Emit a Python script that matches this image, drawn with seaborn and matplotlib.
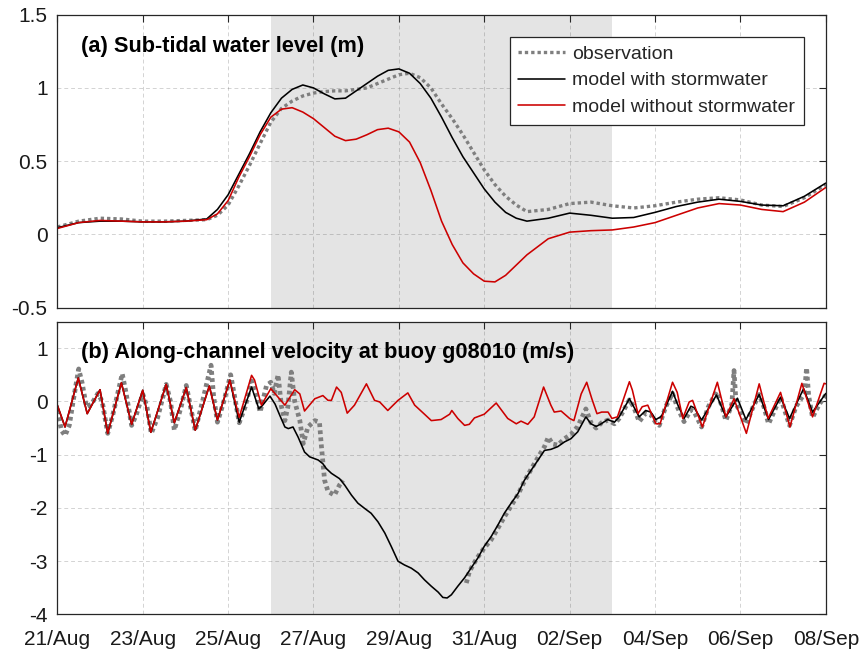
import numpy as np
import pandas as pd
import matplotlib
matplotlib.use("Agg")
import matplotlib.pyplot as plt
import matplotlib.dates as mdates
import seaborn as sns

START = pd.Timestamp("2017-08-21")
END = pd.Timestamp("2017-09-08")
STORM_START = pd.Timestamp("2017-08-26")
STORM_END = pd.Timestamp("2017-09-03")

# ---- (a) sub-tidal water level (m); time in days since 21 Aug ----
level_day = [0, 0.5, 1, 1.5, 2, 2.5, 3, 3.5,
             3.75, 4, 4.25, 4.5, 4.75, 5, 5.25, 5.5, 5.75, 6, 6.25, 6.5, 6.75,
             7, 7.25, 7.5, 7.75, 8, 8.25, 8.5, 8.75, 9, 9.25, 9.5, 9.75, 10,
             10.25, 10.5, 10.75, 11,
             11.5, 12, 12.5, 13, 13.5, 14, 14.5, 15, 15.5, 16, 16.5, 17, 17.5, 18]
level_obs = [0.05, 0.09, 0.11, 0.105, 0.09, 0.09, 0.095, 0.10,
             0.13, 0.20, 0.33, 0.47, 0.62, 0.765, 0.86, 0.91, 0.945, 0.965, 0.975, 0.98, 0.98,
             0.99, 1.00, 1.03, 1.06, 1.09, 1.10, 1.07, 1.00, 0.89, 0.79, 0.68, 0.56, 0.44,
             0.34, 0.26, 0.20, 0.155,
             0.17, 0.21, 0.22, 0.195, 0.18, 0.195, 0.22, 0.24, 0.25, 0.235, 0.20, 0.19, 0.25, 0.34]
level_with = [0.045, 0.08, 0.09, 0.09, 0.085, 0.085, 0.09, 0.105,
              0.17, 0.27, 0.41, 0.55, 0.70, 0.83, 0.93, 0.99, 1.02, 1.00, 0.96, 0.925, 0.93,
              0.98, 1.03, 1.08, 1.12, 1.13, 1.10, 1.03, 0.93, 0.80, 0.66, 0.53, 0.42, 0.31,
              0.22, 0.15, 0.11, 0.09,
              0.11, 0.145, 0.13, 0.11, 0.115, 0.15, 0.19, 0.22, 0.24, 0.225, 0.20, 0.195, 0.26, 0.35]
level_without = [0.04, 0.08, 0.095, 0.09, 0.085, 0.085, 0.09, 0.10,
                 0.14, 0.23, 0.39, 0.53, 0.68, 0.80, 0.855, 0.865, 0.835, 0.79, 0.73, 0.67, 0.64,
                 0.65, 0.68, 0.715, 0.725, 0.70, 0.63, 0.49, 0.30, 0.09, -0.07, -0.195, -0.27, -0.32,
                 -0.325, -0.28, -0.21, -0.14,
                 -0.03, 0.015, 0.025, 0.03, 0.05, 0.08, 0.13, 0.18, 0.21, 0.20, 0.17, 0.155, 0.22, 0.32]

# ---- (b) along-channel velocity (m/s) ----
# both model runs coincide before the storm
vel_early_day = [0.0, 0.18, 0.49, 0.70, 1.00, 1.18, 1.50, 1.74, 2.00, 2.19,
                 2.55, 2.74, 3.02, 3.23, 3.56, 3.75, 4.04]
vel_early = [-0.07, -0.48, 0.44, -0.23, 0.22, -0.60, 0.35, -0.43, 0.21, -0.58,
             0.32, -0.40, 0.26, -0.54, 0.29, -0.35, 0.40]

vel_with_day = [4.26, 4.55, 4.72, 4.80, 4.98, 5.10, 5.21, 5.33, 5.41, 5.52,
                5.64, 5.79, 5.91, 6.11, 6.22, 6.30, 6.42, 6.61, 6.73, 6.89,
                7.04, 7.20, 7.35, 7.51, 7.67, 7.82, 7.98, 8.13, 8.29, 8.45,
                8.60, 8.76, 8.92, 9.03, 9.13, 9.23, 9.38, 9.54, 9.69, 9.85,
                10.00, 10.16, 10.32, 10.47, 10.63, 10.79, 10.94, 11.10, 11.26, 11.41,
                11.56, 11.72, 11.88, 12.03, 12.19, 12.38, 12.50, 12.62, 12.74, 12.89,
                13.05, 13.16, 13.40, 13.63, 13.78, 13.90, 14.02, 14.15, 14.41, 14.52,
                14.68, 14.84, 14.92, 15.09, 15.44, 15.66, 15.93, 16.13, 16.44, 16.66,
                16.94, 17.15, 17.48, 17.69, 17.85, 18.0]
vel_with = [-0.39, 0.27, -0.14, -0.08, 0.10, -0.05, -0.26, -0.48, -0.51, -0.48,
            -0.67, -0.95, -1.04, -1.10, -1.17, -1.26, -1.35, -1.45, -1.57, -1.76,
            -1.91, -2.01, -2.10, -2.26, -2.47, -2.72, -3.00, -3.07, -3.13, -3.22,
            -3.35, -3.47, -3.58, -3.68, -3.69, -3.63, -3.47, -3.31, -3.13, -2.94,
            -2.72, -2.54, -2.32, -2.10, -1.91, -1.73, -1.48, -1.29, -1.10, -0.92,
            -0.90, -0.85, -0.76, -0.70, -0.57, -0.29, -0.42, -0.47, -0.42, -0.34,
            -0.39, -0.29, 0.05, -0.29, -0.17, -0.20, -0.34, -0.28, 0.19, -0.04,
            -0.32, -0.09, -0.12, -0.35, 0.12, -0.29, 0.06, -0.34, 0.13, -0.34,
            0.08, -0.32, 0.24, -0.20, -0.02, 0.15]

vel_without_day = [4.26, 4.55, 4.62, 4.78, 5.00, 5.17, 5.33, 5.56, 5.68, 5.79,
                   6.03, 6.22, 6.34, 6.42, 6.54, 6.65, 6.79, 6.96, 7.24, 7.43,
                   7.55, 7.74, 7.98, 8.21, 8.37, 8.60, 8.76, 8.99, 9.19, 9.24,
                   9.38, 9.54, 9.65, 9.77, 10.00, 10.28, 10.55, 10.75, 10.86, 11.02,
                   11.17, 11.39, 11.56, 11.64, 11.80, 12.00, 12.10, 12.27, 12.40, 12.52,
                   12.64, 12.75, 12.90, 12.99, 13.12, 13.40, 13.47, 13.60, 13.70, 13.83,
                   14.02, 14.12, 14.41, 14.52, 14.65, 14.80, 14.88, 15.11, 15.46, 15.66,
                   15.85, 16.14, 16.44, 16.65, 16.94, 17.16, 17.44, 17.69, 17.96, 18.0]
vel_without = [-0.30, 0.49, 0.40, -0.07, 0.24, 0.08, -0.07, 0.22, 0.14, -0.18,
               0.05, 0.11, 0.02, 0.02, 0.27, 0.17, -0.22, -0.07, 0.33, 0.02,
               -0.01, -0.17, 0.02, 0.16, -0.07, -0.24, -0.36, -0.34, -0.24, -0.17,
               -0.32, -0.45, -0.43, -0.31, -0.24, -0.03, -0.32, -0.42, -0.37, -0.43,
               -0.29, 0.27, -0.07, -0.20, -0.18, -0.32, -0.36, 0.14, 0.36, 0.05,
               -0.23, -0.20, -0.20, -0.32, -0.29, 0.37, 0.21, -0.23, -0.10, -0.07,
               -0.42, -0.42, 0.36, 0.17, -0.32, -0.01, 0.02, -0.48, 0.36, -0.29,
               0.05, -0.60, 0.33, -0.32, 0.17, -0.48, 0.34, -0.29, 0.34, 0.33]

# buoy record, before and after the outage
vel_obs1_day = [0.0, 0.10, 0.18, 0.28, 0.38, 0.50, 0.58, 0.68, 0.80, 0.95,
                1.05, 1.18, 1.30, 1.52, 1.60, 1.74, 1.85, 2.00, 2.10, 2.20,
                2.35, 2.55, 2.65, 2.74, 2.90, 3.02, 3.12, 3.23, 3.40, 3.60,
                3.66, 3.75, 3.90, 4.06, 4.15, 4.26, 4.40, 4.55, 4.65, 4.75,
                4.90, 5.00, 5.08, 5.17, 5.25, 5.33, 5.40, 5.48, 5.56, 5.68,
                5.76, 5.87, 6.03, 6.14, 6.18, 6.26, 6.34, 6.49, 6.61, 6.69]
vel_obs1 = [-0.17, -0.55, -0.64, -0.45, 0.05, 0.61, 0.35, -0.10, -0.05, 0.15,
            0.0, -0.60, -0.25, 0.52, 0.20, -0.45, -0.25, 0.14, -0.10, -0.60,
            -0.30, 0.32, 0.0, -0.54, -0.10, 0.30, -0.10, -0.55, 0.0, 0.68,
            0.10, -0.39, 0.0, 0.50, 0.10, -0.40, -0.10, 0.38, 0.15, -0.20,
            0.30, 0.36, 0.15, 0.50, -0.10, -0.36, -0.10, 0.55, 0.0, -0.36,
            -0.79, -0.48, -0.36, -0.39, -0.79, -1.48, -1.69, -1.76, -1.57, -1.48]
vel_obs2_day = [9.58, 9.65, 9.75, 9.85, 10.00, 10.16, 10.32, 10.47, 10.63, 10.79,
                10.94, 11.10, 11.26, 11.41, 11.50, 11.60, 11.72, 11.88, 12.03, 12.19,
                12.30, 12.38, 12.50, 12.62, 12.75, 12.90, 13.05, 13.16, 13.40, 13.50,
                13.63, 13.78, 13.90, 14.02, 14.10, 14.25, 14.41, 14.52, 14.68, 14.84,
                14.92, 15.09, 15.25, 15.44, 15.55, 15.66, 15.80, 15.85, 15.90, 16.13,
                16.30, 16.44, 16.55, 16.66, 16.94, 17.15, 17.30, 17.50, 17.55, 17.60,
                17.69, 17.85, 18.0]
vel_obs2 = [-3.41, -3.20, -3.05, -2.92, -2.75, -2.60, -2.38, -2.17, -1.96, -1.75,
            -1.50, -1.27, -1.05, -0.85, -0.67, -0.80, -0.82, -0.70, -0.62, -0.47,
            -0.28, -0.14, -0.40, -0.50, -0.40, -0.35, -0.42, -0.32, 0.03, -0.10,
            -0.38, -0.22, -0.25, -0.40, -0.45, -0.10, 0.15, -0.10, -0.38, -0.16,
            -0.20, -0.48, -0.10, 0.18, -0.05, -0.36, -0.05, 0.58, -0.05, -0.42,
            -0.10, 0.13, -0.10, -0.42, 0.08, -0.45, -0.10, 0.15, 0.63, 0.10,
            -0.30, -0.05, 0.12]

series_labels = ["observation", "model with stormwater", "model without stormwater"]
panel_titles = ["(a) Sub-tidal water level (m)",
                "(b) Along-channel velocity at buoy g08010 (m/s)"]

GRAY = "#7f7f7f"
BLACK = "#000000"
RED = "#cc0000"
SHADE = "#e4e4e4"
AXCOL = "#262626"
DOTS = (0, (1.0, 0.9))


def to_time(days):
    return START + pd.to_timedelta(np.asarray(days, dtype=float), unit="D")


sns.set_theme(style="white")
plt.rcParams["font.family"] = ["Liberation Sans", "DejaVu Sans"]
plt.rcParams["axes.unicode_minus"] = False

fig = plt.figure(figsize=(8.61, 6.51), dpi=100)
ax1 = fig.add_axes([0.0666, 0.5276, 0.8925, 0.4498])
ax2 = fig.add_axes([0.0666, 0.0561, 0.8925, 0.4500])


def line(ax, days, vals, color, lw, ls="-", label=None):
    sns.lineplot(x=to_time(days), y=vals, ax=ax, color=color, linewidth=lw,
                 linestyle=ls, label=label, estimator=None, errorbar=None,
                 legend=False)


# panel (a)
line(ax1, level_day, level_obs, GRAY, 2.4, DOTS, series_labels[0])
line(ax1, level_day, level_with, BLACK, 1.15, "-", series_labels[1])
line(ax1, level_day, level_without, RED, 1.15, "-", series_labels[2])

# panel (b)
line(ax2, vel_obs1_day, vel_obs1, GRAY, 3.4, (0, (0.8, 0.7)))
line(ax2, vel_obs2_day, vel_obs2, GRAY, 3.4, (0, (0.8, 0.7)))
line(ax2, vel_early_day + vel_with_day, vel_early + vel_with, BLACK, 1.15)
line(ax2, vel_early_day + vel_without_day, vel_early + vel_without, RED, 1.15)

xticks = pd.date_range(START, END, freq="2D")
for ax, ylim, yticks, title in [
        (ax1, (-0.5, 1.5), [-0.5, 0, 0.5, 1, 1.5], panel_titles[0]),
        (ax2, (-4, 1.5), [-4, -3, -2, -1, 0, 1], panel_titles[1])]:
    ax.axvspan(STORM_START, STORM_END, color=SHADE, lw=0, zorder=0.2)
    ax.set_xlim(START, END)
    ax.set_ylim(*ylim)
    ax.set_yticks(yticks)
    ax.set_yticklabels([f"{v:g}" for v in yticks])
    ax.set_xticks(xticks)
    ax.set_axisbelow(True)
    ax.grid(True, color=AXCOL, alpha=0.2, linewidth=0.7, linestyle=(0, (4, 3)))
    ax.tick_params(direction="in", top=True, right=True, length=5, width=0.8,
                   colors=AXCOL, labelsize=15, labelcolor="#1a1a1a")
    ax.tick_params(axis="y", pad=7)
    ax.tick_params(axis="x", pad=11.5)
    for s in ax.spines.values():
        s.set_color(AXCOL)
        s.set_linewidth(0.9)
    ax.set_xlabel("")
    ax.set_ylabel("")
    ax.text(0.0305, 0.893, title, transform=ax.transAxes, ha="left",
            va="center", fontsize=15.7, fontweight="bold", color="black")

ax1.set_xticklabels([])
ax2.xaxis.set_major_formatter(mdates.DateFormatter("%d/%b"))

leg = ax1.legend(loc="upper right", bbox_to_anchor=(0.971, 0.925),
                 borderaxespad=0, fontsize=14, frameon=True, fancybox=False,
                 framealpha=1, edgecolor="#262626", handlelength=2.4,
                 handletextpad=0.35, borderpad=0.45, labelspacing=0.45)
leg.get_frame().set_linewidth(0.9)

fig.savefig("out.png", dpi=100)
